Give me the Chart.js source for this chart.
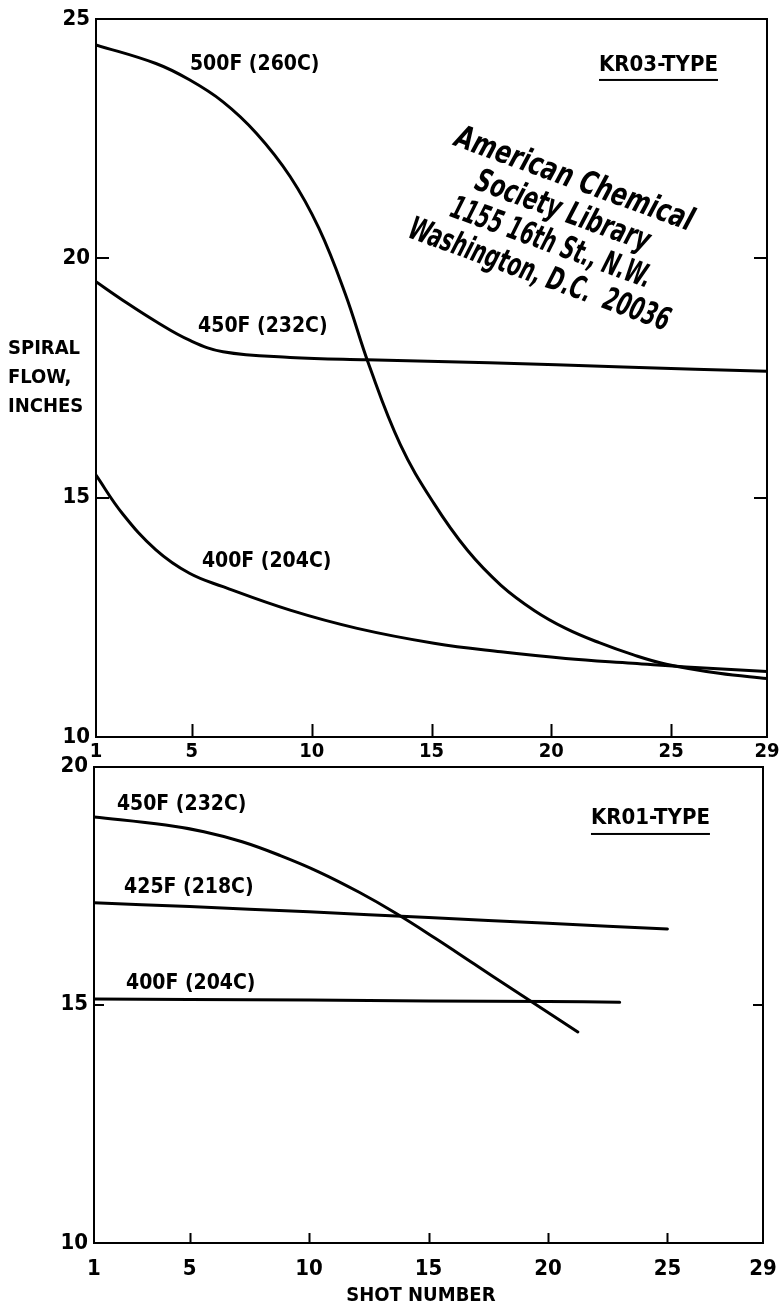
<!DOCTYPE html>
<html><head><meta charset="utf-8">
<script src="https://cdn.jsdelivr.net/npm/chart.js@4/dist/chart.umd.min.js"></script>
<style>
html,body{margin:0;padding:0;background:#fff;}
body{width:780px;height:1307px;position:relative;overflow:hidden;}
#c1{position:absolute;left:0;top:0;}
#c2{position:absolute;left:0;top:740px;}
</style></head><body>
<canvas id="c1" width="780" height="765"></canvas>
<canvas id="c2" width="780" height="567"></canvas>
<script>
// ---------- data ----------
const shotTicks = [1, 5, 10, 15, 20, 25, 29];
const flowTicksTop = [10, 15, 20, 25];
const flowTicksBottom = [10, 15, 20];

// KR03-type (top panel)
const kr03_500F_shots = [1, 3.5, 4.9, 6.3, 7.7, 9.1, 10.3, 11.4, 12.4, 13.7, 15.1, 16.5, 17.9, 19.3, 20.6, 22.0, 23.4, 24.8, 27, 29];
const kr03_500F = [24.46, 24.07, 23.73, 23.27, 22.61, 21.71, 20.63, 19.26, 17.76, 16.11, 14.88, 13.9, 13.17, 12.64, 12.27, 11.97, 11.72, 11.52, 11.33, 11.22];
const kr03_450F_shots = [1, 2.1, 3.5, 4.9, 6.3, 9.1, 12.3, 17.4, 23, 29];
const kr03_450F = [19.51, 19.13, 18.68, 18.29, 18.05, 17.93, 17.88, 17.82, 17.73, 17.64];
const kr03_400F_shots = [1, 2.1, 3.5, 4.9, 6.3, 9.1, 11.9, 15.1, 17.9, 20.6, 23.4, 26, 29];
const kr03_400F = [15.47, 14.67, 13.91, 13.42, 13.14, 12.65, 12.27, 11.96, 11.78, 11.64, 11.54, 11.45, 11.37];
const kr03Labels = ['500F (260C)', '450F (232C)', '400F (204C)'];

// KR01-type (bottom panel)
const kr01_450F_shots = [1, 4, 5.6, 7.2, 8.8, 10.4, 12.1, 13.6, 15.3, 16.9, 18.5, 19.3, 21.25];
const kr01_450F = [18.94, 18.77, 18.63, 18.42, 18.13, 17.79, 17.36, 16.93, 16.39, 15.86, 15.33, 15.07, 14.43];
const kr01_425F_shots = [1, 5, 10, 15, 20, 25];
const kr01_425F = [17.14, 17.06, 16.95, 16.83, 16.71, 16.59];
const kr01_400F_shots = [1, 5, 10, 15, 20, 23];
const kr01_400F = [15.12, 15.11, 15.1, 15.08, 15.07, 15.05];
const kr01Labels = ['450F (232C)', '425F (218C)', '400F (204C)'];

const panelTitles = ['KR03-TYPE', 'KR01-TYPE'];
const yTitleLines = ['SPIRAL', 'FLOW,', 'INCHES'];
const xTitle = 'SHOT NUMBER';
const stampLines = ['American Chemical', 'Society Library', '1155 16th St., N.W.', 'Washington, D.C.  20036'];

// ---------- style ----------
const FAM = '"DejaVu Sans Condensed", "DejaVu Sans", sans-serif';
Chart.defaults.font.family = FAM;
Chart.defaults.font.weight = 'bold';
Chart.defaults.color = '#000';

function series(xs, ys, label) {
  return {
    label: label,
    data: xs.map((x, i) => ({x: x, y: ys[i]})),
    borderColor: '#000', borderWidth: 3, pointRadius: 0,
    fill: false, tension: 0.4, borderCapStyle: 'round', borderJoinStyle: 'round'
  };
}

const notesPlugin = {
  id: 'notes',
  afterDatasetsDraw(chart, args, opts) {
    const ctx = chart.ctx, xs = chart.scales.x, ys = chart.scales.y, ca = chart.chartArea;
    ctx.save();
    ctx.fillStyle = '#000'; ctx.strokeStyle = '#000';
    const t = opts.ticks;
    if (t) {
      ctx.lineWidth = 2;
      ctx.beginPath();
      t.bottom.forEach(v => { const p = Math.round(xs.getPixelForValue(v)) + 0.5; ctx.moveTo(p, ca.bottom); ctx.lineTo(p, ca.bottom - t.len); });
      t.left.forEach(v => { const p = Math.round(ys.getPixelForValue(v)); ctx.moveTo(ca.left, p); ctx.lineTo(ca.left + t.len, p); });
      t.right.forEach(v => { const p = Math.round(ys.getPixelForValue(v)); ctx.moveTo(ca.right, p); ctx.lineTo(ca.right - t.len, p); });
      ctx.stroke();
    }
    (opts.labels || []).forEach(l => {
      ctx.font = l.font;
      ctx.textAlign = l.align || 'left'; ctx.textBaseline = 'middle';
      const px = (l.px != null) ? l.px : xs.getPixelForValue(l.x);
      const py = (l.py != null) ? l.py : ys.getPixelForValue(l.y);
      ctx.fillText(l.text, px, py);
      if (l.underline) {
        const w = ctx.measureText(l.text).width;
        ctx.fillRect(px, py + l.underline, w, 2);
      }
    });
    const s = opts.stamp;
    if (s) {
      ctx.font = s.font; ctx.textAlign = 'center'; ctx.textBaseline = 'alphabetic';
      s.lines.forEach((txt, i) => {
        ctx.save();
        ctx.translate(xs.getPixelForValue(s.x), ys.getPixelForValue(s.y));
        ctx.rotate(s.angle * Math.PI / 180);
        ctx.translate(0, i * s.gap);
        ctx.scale(s.squeeze[i], 1);
        ctx.fillText(txt, 0, 0);
        ctx.restore();
      });
    }
    ctx.restore();
  }
};

function noPad(s) { s.paddingLeft = 0; s.paddingRight = 0; s.paddingTop = 0; s.paddingBottom = 0; }

function axes(o) {
  const border = {display: true, color: '#000', width: 2};
  const grid = {display: false, drawTicks: false};
  return {
    x: {type: 'linear', position: 'bottom', min: 1, max: 29,
        afterBuildTicks: s => { s.ticks = shotTicks.map(v => ({value: v})); },
        ticks: {font: {size: o.xFont, weight: 'bold'}, padding: o.xPad, maxRotation: 0, autoSkip: false, callback: v => String(v)},
        grid: grid, border: border,
        afterFit: s => { s.height = o.xH; noPad(s); }},
    y: {type: 'linear', position: 'left', min: o.yMin, max: o.yMax,
        afterBuildTicks: s => { s.ticks = o.yTicks.map(v => ({value: v})); },
        ticks: {font: {size: 22, weight: 'bold'}, padding: 6, callback: v => String(v)},
        grid: grid, border: border,
        afterFit: s => { s.width = o.yW; noPad(s); }},
    x2: {type: 'linear', position: 'top', min: 1, max: 29, ticks: {display: false}, grid: grid, border: border,
         afterFit: s => { s.height = 0; noPad(s); }},
    y2: {type: 'linear', position: 'right', min: o.yMin, max: o.yMax, ticks: {display: false}, grid: grid, border: border,
         afterFit: s => { s.width = 0; noPad(s); }}
  };
}

const LBL = 'bold 21px ' + FAM;
const TTL = 'bold 20px ' + FAM;

new Chart(document.getElementById('c1'), {
  type: 'line',
  data: {datasets: [
    series(kr03_500F_shots, kr03_500F, kr03Labels[0]),
    series(kr03_450F_shots, kr03_450F, kr03Labels[1]),
    series(kr03_400F_shots, kr03_400F, kr03Labels[2])
  ]},
  plugins: [notesPlugin],
  options: {
    responsive: false, animation: false, events: [], devicePixelRatio: 1,
    layout: {padding: {left: 0, right: 13, top: 19, bottom: 0}},
    plugins: {
      legend: {display: false}, tooltip: {enabled: false},
      notes: {
        ticks: {bottom: [5, 10, 15, 20, 25], left: [15, 20], right: [15, 20], len: 13},
        labels: [
          {text: kr03Labels[0], x: 4.92, y: 24.04, font: LBL},
          {text: kr03Labels[1], x: 5.26, y: 18.57, font: LBL},
          {text: kr03Labels[2], x: 5.42, y: 13.66, font: LBL},
          {text: panelTitles[0], x: 21.99, y: 24.04, font: 'bold 22px ' + FAM, underline: 14},
          {text: yTitleLines[0], px: 8, y: 18.11, font: TTL},
          {text: yTitleLines[1], px: 8, y: 17.5, font: TTL},
          {text: yTitleLines[2], px: 8, y: 16.89, font: TTL}
        ],
        stamp: {lines: stampLines, x: 20.82, y: 21.47, angle: 20, gap: 34,
                squeeze: [0.81, 0.75, 0.67, 0.69],
                font: 'bold oblique 32px ' + FAM}
      }
    },
    scales: axes({xFont: 20, xPad: 3, xH: 28, yMin: 10, yMax: 25, yTicks: flowTicksTop, yW: 96})
  }
});

new Chart(document.getElementById('c2'), {
  type: 'line',
  data: {datasets: [
    series(kr01_450F_shots, kr01_450F, kr01Labels[0]),
    series(kr01_425F_shots, kr01_425F, kr01Labels[1]),
    series(kr01_400F_shots, kr01_400F, kr01Labels[2])
  ]},
  plugins: [notesPlugin],
  options: {
    responsive: false, animation: false, events: [], devicePixelRatio: 1,
    layout: {padding: {left: 0, right: 17, top: 26.5, bottom: 0}},
    plugins: {
      legend: {display: false}, tooltip: {enabled: false},
      notes: {
        ticks: {bottom: [5, 10, 15, 20, 25], left: [15], right: [15], len: 10},
        labels: [
          {text: kr01Labels[0], x: 1.96, y: 19.21, font: LBL},
          {text: kr01Labels[1], x: 2.26, y: 17.45, font: LBL},
          {text: kr01Labels[2], x: 2.34, y: 15.44, font: LBL},
          {text: panelTitles[1], x: 21.8, y: 18.92, font: 'bold 22px ' + FAM, underline: 15},
          {text: xTitle, x: 14.68, py: 556, font: TTL, align: 'center'}
        ]
      }
    },
    scales: axes({xFont: 22, xPad: 13, xH: 64, yMin: 10, yMax: 20, yTicks: flowTicksBottom, yW: 94})
  }
});
</script>
</body></html>
